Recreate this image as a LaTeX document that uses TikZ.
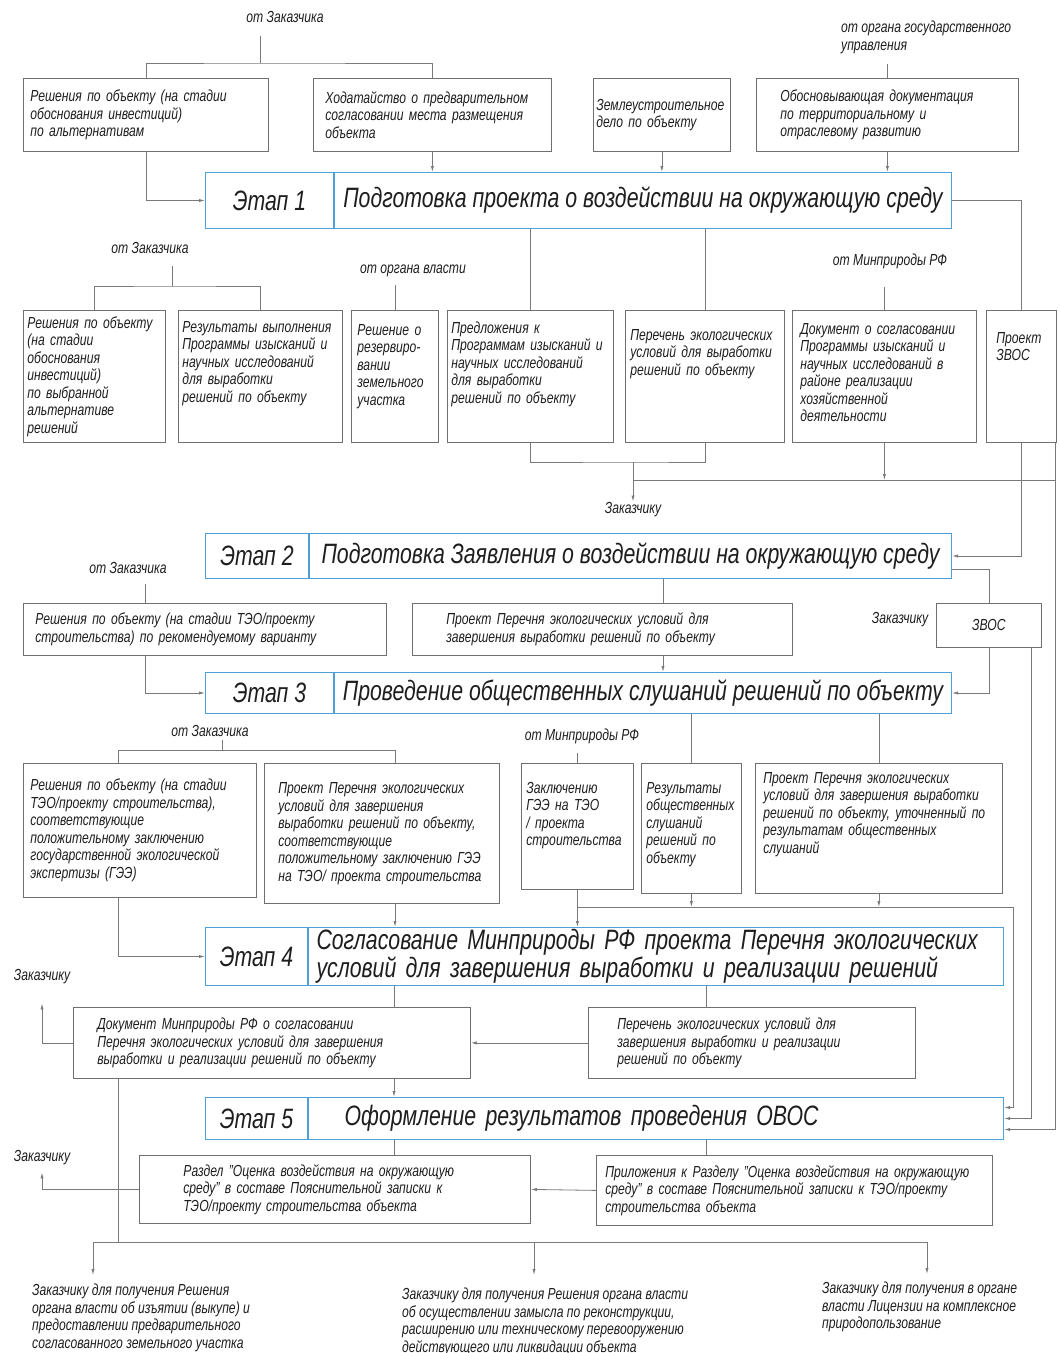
\documentclass[tikz,border=0pt]{standalone}
\usepackage{fontspec}
\setmainfont{Liberation Sans}[FakeStretch=0.76]
\usetikzlibrary{arrows.meta,positioning}

\definecolor{boxgray}{HTML}{6F6F6F}
\definecolor{linegray}{HTML}{7A7A7A}
\definecolor{stageblue}{HTML}{4F9FD9}
\definecolor{ink}{HTML}{1E1E1E}

\tikzset{
  txt/.style={font=\fontsize{16}{17.5}\selectfont\itshape, text=ink},
  lbl/.style={txt, inner sep=1pt},
  box/.style={txt, draw=boxgray, line width=0.8pt, anchor=north west, align=left},
  topbox/.style={box, text height=12pt},
  stage/.style={draw=stageblue, line width=1pt, anchor=north west, inner ysep=2pt,
    font=\fontsize{28}{28}\selectfont\itshape, text=ink},
  line/.style={draw=linegray, line width=0.8pt},
  arr/.style={line, -{Latex[length=6pt,width=3.2pt]}}
}

\begin{document}
\begin{tikzpicture}[x=1pt,y=-1pt]

\fill[white] (0,0) rectangle (1060,1353);
\useasboundingbox (0,0) rectangle (1060,1353);

% Этап 1
\node[lbl] (zak1) at (285,17) {от Заказчика};
\node[lbl, anchor=north west, align=left] (gos) at (840,20) {от органа государственного\\управления};

\node[box, text width=231pt, inner xsep=7pt, minimum height=73pt] (a1) at (23,78)
  {Решения по объекту (на стадии\\обоснования инвестиций)\\по альтернативам};
\node[box, text width=214pt, inner xsep=12pt, minimum height=73pt] (a2) at (313,78)
  {Ходатайство о предварительном\\согласовании места размещения\\объекта};
\node[box, text width=131pt, inner xsep=3pt, minimum height=73pt] (a3) at (593,78)
  {Землеустроительное\\дело по объекту};
\node[box, text width=214pt, inner xsep=24pt, minimum height=73pt] (a4) at (756,78)
  {Обосновывающая документация\\по территориальному и\\отраслевому развитию};

\node[stage, minimum width=128pt, minimum height=56pt] (s1n) at (205,172) {Этап 1};
\node[stage, minimum width=617pt, minimum height=56pt] (s1t) at (s1n.north east)
  {Подготовка проекта о воздействии на окружающую среду};

\coordinate (t1) at (260,63);
\draw[line, shorten >=12pt] (t1) -- (t1 |- zak1.south);
\draw[line] (a1.north) |- (t1) -| (a2.north);
\draw[line, shorten >=9pt] (a4.north) -- (a4.north |- gos.south);
\draw[arr] (a1.south) |- (s1n.west);
\draw[arr] (a2.south) -- (a2.south |- s1t.north);
\draw[arr] (a3.south) -- (a3.south |- s1t.north);
\draw[arr] (a4.south) -- (a4.south |- s1t.north);

% результаты Этапа 1
\node[lbl] (zak2) at (150,248) {от Заказчика};
\node[lbl] (vlast) at (413,271) {от органа власти};
\node[lbl] (min1) at (890,261) {от Минприроды РФ};

\node[box, text width=134pt, inner xsep=4pt, minimum height=132pt] (b1) at (23,310)
  {Решения по объекту\\(на стадии\\обоснования\\инвестиций)\\по выбранной\\альтернативе\\решений};
\node[topbox, text width=156pt, inner xsep=4pt, inner ysep=10pt, text depth=100pt] (b2) at (178,310)
  {Результаты выполнения\\Программы изысканий и\\научных исследований\\для выработки\\решений по объекту};
\node[topbox, text width=75pt, inner xsep=6pt, inner ysep=13pt, text depth=94pt] (b3) at (351,310)
  {Решение о\\резервиро-\\вании\\земельного\\участка};
\node[topbox, text width=158pt, inner xsep=4pt, inner ysep=11pt, text depth=98pt] (b4) at (447,310)
  {Предложения к\\Программам изысканий и\\научных исследований\\для выработки\\решений по объекту};
\node[topbox, text width=149pt, inner xsep=5pt, inner ysep=18pt, text depth=84pt] (b5) at (625,310)
  {Перечень экологических\\условий для выработки\\решений по объекту};
\node[topbox, text width=168pt, inner xsep=8pt, inner ysep=12pt, text depth=96pt] (b6) at (792,310)
  {Документ о согласовании\\Программы изысканий и\\научных исследований в\\районе реализации\\хозяйственной\\деятельности};
\node[topbox, text width=50pt, inner xsep=10pt, inner ysep=21pt, text depth=78pt] (b7) at (986,310)
  {Проект\\ЗВОС};

\node[lbl] (tozak1) at (633,510) {Заказчику};

\coordinate (t2) at (172,286);
\draw[line, shorten >=11pt] (t2) -- (t2 |- zak2.south);
\draw[line] (b1.north) |- (t2) -| (b2.north);
\draw[line, shorten >=7pt] (b3.north) -- (b3.north |- vlast.south);
\draw[line, shorten >=17pt] (b6.north) -- (b6.north |- min1.south);
\draw[line] (b4.north) -- (b4.north |- s1t.south);
\draw[line] (b5.north) -- (b5.north |- s1t.south);
\draw[line] (s1t.east) -| (b7.north);

\coordinate (t3) at (633,462);
\coordinate (t4) at (1055,480);
\draw[line] (b4.south) |- (t3) -| (b5.south);
\draw[arr] (t3) -- (tozak1.north);
\draw[arr] (b6.south) -- (b6.south |- t4);
\draw[line] (t4) -- (t4 -| t3);

% Этап 2
\node[stage, minimum width=103pt, minimum height=45pt] (s2n) at (205,533) {Этап 2};
\node[stage, minimum width=642pt, minimum height=45pt] (s2t) at (s2n.north east)
  {Подготовка Заявления о воздействии на окружающую среду};

\draw[arr] (b7.south) |- (s2t.east);

\node[lbl] (zak3) at (128,568) {от Заказчика};
\node[lbl] (tozak2) at (900,620) {Заказчику};

\node[box, text width=339pt, inner xsep=12pt, minimum height=52pt] (c1) at (23,603)
  {Решения по объекту (на стадии ТЭО/проекту\\строительства) по рекомендуемому варианту};
\node[box, text width=312pt, inner xsep=34pt, minimum height=52pt] (c2) at (412,603)
  {Проект Перечня экологических условий для\\завершения выработки решений по объекту};
\node[box, minimum width=105pt, minimum height=44pt] (c3) at (936,603) {ЗВОС};

% Этап 3
\node[stage, minimum width=128pt, minimum height=41pt] (s3n) at (205,672) {Этап 3};
\node[stage, minimum width=617pt, minimum height=41pt] (s3t) at (s3n.north east)
  {Проведение общественных слушаний решений по объекту};

\coordinate (c1in) at ([xshift=122pt]c1.north west);
\coordinate (c1out) at ([xshift=122pt]c1.south west);
\coordinate (c2in) at ([xshift=251pt]c2.north west);
\coordinate (c2out) at ([xshift=251pt]c2.south west);
\coordinate (c3out) at ([xshift=-10pt]c3.south east);
\draw[line, shorten >=9pt] (c1in) -- (c1in |- zak3.south);
\draw[arr] (c1out) |- (s3n.west);
\draw[line] (c2in) -- (c2in |- s2t.south);
\draw[arr] (c2out) -- (c2out |- s3t.north);
\draw[line] ([yshift=-13pt]s2t.east) -| (c3.north);
\draw[arr] (c3.south) |- (s3t.east);

% результаты Этапа 3
\node[lbl] (zak4) at (210,731) {от Заказчика};
\node[lbl] (min2) at (582,736) {от Минприроды РФ};

\node[box, text width=219pt, inner xsep=7pt, minimum height=134pt] (d1) at (23,763)
  {Решения по объекту (на стадии\\ТЭО/проекту строительства),\\соответствующие\\положительному заключению\\государственной экологической\\экспертизы (ГЭЭ)};
\node[box, text width=207pt, inner xsep=14pt, minimum height=140pt] (d2) at (264,763)
  {Проект Перечня экологических\\условий для завершения\\выработки решений по объекту,\\соответствующие\\положительному заключению ГЭЭ\\на ТЭО/ проекта строительства};
\node[topbox, text width=102pt, inner xsep=5pt, inner ysep=18pt, text depth=78pt] (d3) at (521,763)
  {Заключению\\ГЭЭ на ТЭО\\/ проекта\\строительства};
\node[topbox, text width=90pt, inner xsep=5pt, inner ysep=18pt, text depth=82pt] (d4) at (641,763)
  {Результаты\\общественных\\слушаний\\решений по\\объекту};
\node[topbox, text width=231pt, inner xsep=8pt, inner ysep=8pt, text depth=102pt] (d5) at (755,763)
  {Проект Перечня экологических\\условий для завершения выработки\\решений по объекту, уточненный по\\результатам общественных\\слушаний};

\coordinate (t6) at (222,750);
\coordinate (d1in) at ([xshift=95pt]d1.north west);
\coordinate (d1out) at ([xshift=95pt]d1.south west);
\coordinate (d2in) at ([xshift=131pt]d2.north west);
\coordinate (d2out) at ([xshift=131pt]d2.south west);
\draw[line, shorten >=2pt] (t6) -- (t6 |- zak4.south);
\draw[line] (d1in) |- (t6) -| (d2in);
\draw[line, shorten >=8pt] (d3.north) -- (d3.north |- min2.south);
\draw[line] (d4.north) -- (d4.north |- s3t.south);
\draw[line] (d5.north) -- (d5.north |- s3t.south);

% Этап 4
\node[stage, minimum width=102pt, minimum height=58pt] (s4n) at (205,927) {Этап 4};
\node[stage, align=left, text width=679pt, inner xsep=8pt, minimum height=58pt] (s4t) at (s4n.north east)
  {Согласование Минприроды РФ проекта Перечня экологических\\условий для завершения выработки и реализации решений};

\draw[arr] (d1out) |- (s4n.west);
\draw[arr] (d2out) -- (d2out |- s4t.north);
\draw[arr] (d3.south) -- (d3.south |- s4t.north);

\coordinate (t7) at (1013,907);
\draw[arr] (d4.south) -- (d4.south |- t7);
\draw[arr] (d5.south) -- (d5.south |- t7);
\draw[line] (t7 -| d3.south) -- (t7);

% результаты Этапа 4
\node[lbl] (tozak3) at (42,977) {Заказчику};

\node[box, text width=349pt, inner xsep=24pt, minimum height=71pt] (e1) at (73,1007)
  {Документ Минприроды РФ о согласовании\\Перечня экологических условий для завершения\\выработки и реализации решений по объекту};
\node[box, text width=269pt, inner xsep=29pt, minimum height=71pt] (e2) at (588,1007)
  {Перечень экологических условий для\\завершения выработки и реализации\\решений по объекту};

\coordinate (e1in) at ([xshift=321pt]e1.north west);
\coordinate (e1out) at ([xshift=321pt]e1.south west);
\coordinate (e2in) at ([xshift=118pt]e2.north west);
\draw[line] (e1in) -- (e1in |- s4t.south);
\draw[line] (e2in) -- (e2in |- s4t.south);
\draw[arr] (e2.west) -- (e1.east);
\draw[arr, shorten >=18pt] (e1.west) -| (tozak3.south);

% Этап 5
\node[stage, minimum width=102pt, minimum height=42pt] (s5n) at (205,1097) {Этап 5};
\node[stage, align=left, text width=623pt, inner xsep=36pt, minimum height=42pt] (s5t) at (s5n.north east)
  {Оформление результатов проведения ОВОС};

\draw[arr] (e1out) -- (e1out |- s5t.north);
\draw[arr] (t7) |- ([yshift=11pt]s5t.east);
\draw[arr] (c3out) |- (s5t.east);
\draw[arr] (t4 |- b7.south) |- ([yshift=-11pt]s5t.east);

% результаты Этапа 5
\node[lbl] (tozak4) at (42,1158) {Заказчику};

\node[box, text width=303pt, inner xsep=44pt, minimum height=68pt] (f1) at (139,1155)
  {Раздел "Оценка воздействия на окружающую\\среду" в составе Пояснительной записки к\\ТЭО/проекту строительства объекта};
\node[box, text width=378pt, inner xsep=9pt, minimum height=70pt] (f2) at (596,1155)
  {Приложения к Разделу "Оценка воздействия на окружающую\\среду" в составе Пояснительной записки к ТЭО/проекту\\строительства объекта};

\coordinate (f1in) at ([xshift=255pt]f1.north west);
\coordinate (f2in) at ([xshift=110pt]f2.north west);
\draw[line] (f1in) -- (f1in |- s5t.south);
\draw[line] (f2in) -- (f2in |- s5t.south);
\draw[arr] (f2.west) -- (f1.east);
\draw[arr, shorten >=6pt] (f1.west) -| (tozak4.south);

% Заказчику
\node[lbl, anchor=north west, align=left, inner sep=0pt] (g1) at (32,1284)
  {Заказчику для получения Решения\\органа власти об изъятии (выкупе) и\\предоставлении предварительного\\согласованного земельного участка};
\node[lbl, anchor=north west, align=left, inner sep=0pt] (g2) at (402,1288)
  {Заказчику для получения Решения органа власти\\об осуществлении замысла по реконструкции,\\расширению или техническому перевооружению\\действующего или ликвидации объекта};
\node[lbl, anchor=north west, align=left, inner sep=0pt] (g3) at (822,1282)
  {Заказчику для получения в органе\\власти Лицензии на комплексное\\природопользование};

\coordinate (t8) at (118,1242);
\coordinate (g1in) at ([xshift=61pt]g1.north west);
\coordinate (g2in) at ([xshift=132pt]g2.north west);
\coordinate (g3in) at ([xshift=105pt]g3.north west);
\draw[line] ([xshift=45pt]e1.south west) -- (t8);
\draw[line] (t8) -- (t8 -| g3in);
\draw[arr, shorten >=9pt] (t8) -| (g1in);
\draw[arr, shorten >=13pt] (t8 -| g2in) -- (g2in);
\draw[arr, shorten >=8pt] (t8 -| g3in) -- (g3in);

\end{tikzpicture}
\end{document}
